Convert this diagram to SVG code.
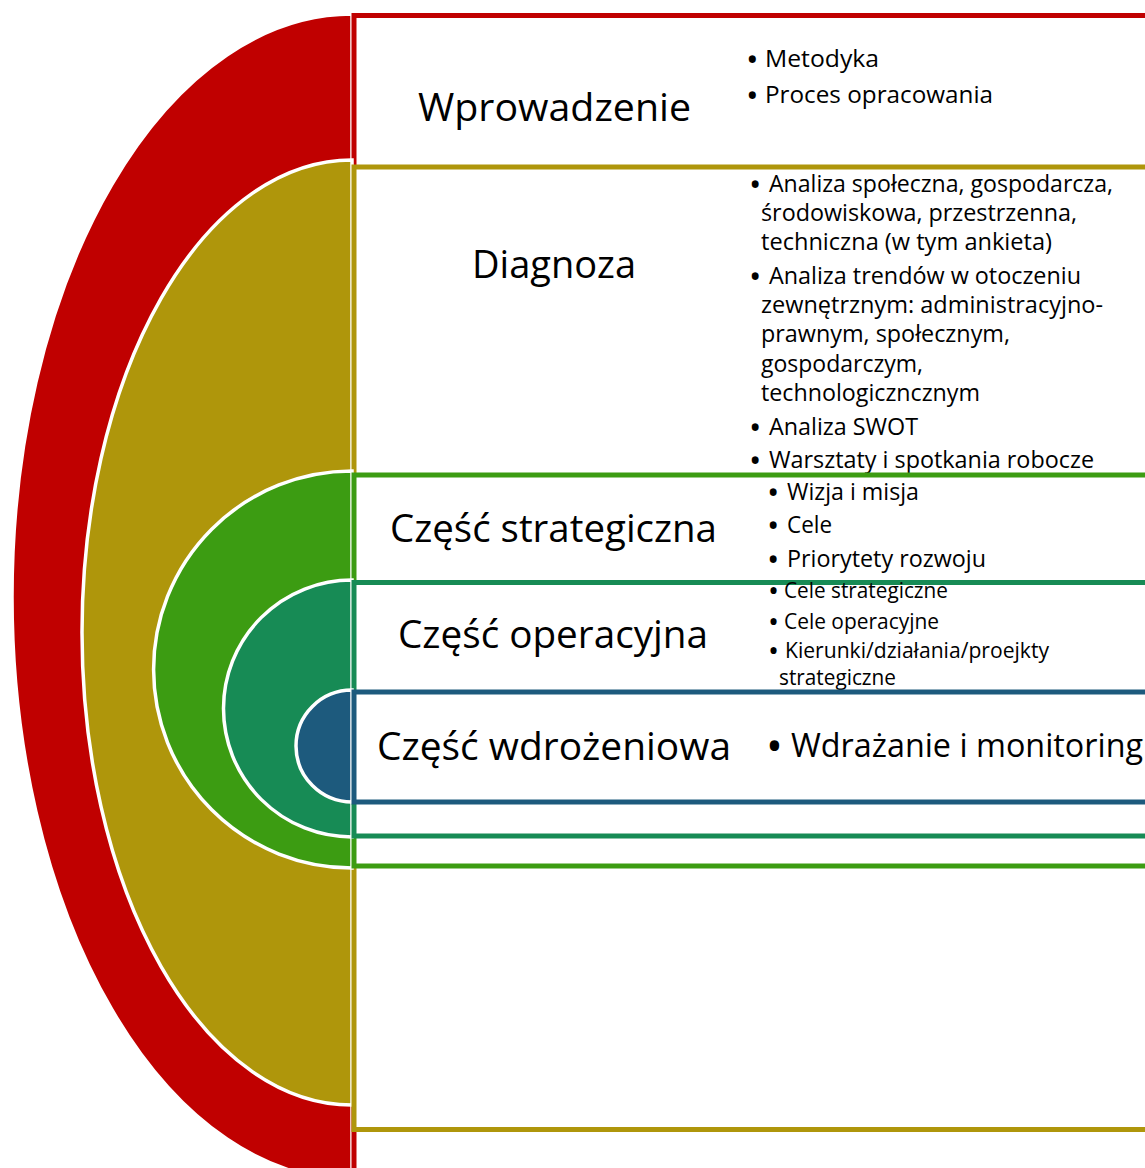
<svg xmlns="http://www.w3.org/2000/svg" width="1145" height="1168" viewBox="0 0 1145 1168">
<style>
.arc{stroke:#FFFFFF;stroke-width:3.5}
.box{fill:#FFFFFF;stroke-width:5}
text{font-family:"Open Sans","Noto Sans","Liberation Sans",sans-serif;fill:#000000}
.title{font-size:38px}
.b24{font-size:24px}
.b235{font-size:23.5px}
.b21{font-size:21px}
.b32{font-size:32px}
.bul{font-size:1.4em}
</style>
<rect x="0" y="0" width="1145" height="1168" fill="#FFFFFF"/>
<g id="connectors"/>
<g id="node-wprowadzenie">
<path class="arc" fill="#C00000" d="M352,14 A340,583 0 0 0 352,1180 Z"/>
<rect class="box" stroke="#C00000" x="354" y="15.5" width="820" height="1180"/>
<text class="title" x="418" y="121" textLength="273" lengthAdjust="spacingAndGlyphs">Wprowadzenie</text>
<text class="b24"><tspan class="bul" x="746" y="70.5">•</tspan><tspan x="765" y="67" textLength="114" lengthAdjust="spacingAndGlyphs">Metodyka</tspan></text>
<text class="b24"><tspan class="bul" x="746" y="106.5">•</tspan><tspan x="765" y="103" textLength="228" lengthAdjust="spacingAndGlyphs">Proces opracowania</tspan></text>
</g>
<g id="node-diagnoza">
<path class="arc" fill="#AF960B" d="M352,160 A270,472.5 0 0 0 352,1105 Z"/>
<rect class="box" stroke="#AF960B" x="354" y="167" width="820" height="962.5"/>
<text class="title" x="472" y="278" textLength="164" lengthAdjust="spacingAndGlyphs">Diagnoza</text>
<text class="b235"><tspan class="bul" x="749" y="195.5">•</tspan><tspan x="769" y="192" textLength="344" lengthAdjust="spacingAndGlyphs">Analiza społeczna, gospodarcza,</tspan></text>
<text class="b235" x="761" y="221" textLength="316" lengthAdjust="spacingAndGlyphs">środowiskowa, przestrzenna,</text>
<text class="b235" x="761" y="250" textLength="291" lengthAdjust="spacingAndGlyphs">techniczna (w tym ankieta)</text>
<text class="b235"><tspan class="bul" x="749" y="287.5">•</tspan><tspan x="769" y="284" textLength="312" lengthAdjust="spacingAndGlyphs">Analiza trendów w otoczeniu</tspan></text>
<text class="b235" x="761" y="313" textLength="342" lengthAdjust="spacingAndGlyphs">zewnętrznym: administracyjno-</text>
<text class="b235" x="761" y="342" textLength="249" lengthAdjust="spacingAndGlyphs">prawnym, społecznym,</text>
<text class="b235" x="761" y="372" textLength="162" lengthAdjust="spacingAndGlyphs">gospodarczym,</text>
<text class="b235" x="761" y="401" textLength="219" lengthAdjust="spacingAndGlyphs">technologiczncznym</text>
<text class="b235"><tspan class="bul" x="749" y="438.5">•</tspan><tspan x="769" y="435" textLength="149" lengthAdjust="spacingAndGlyphs">Analiza SWOT</tspan></text>
<text class="b235"><tspan class="bul" x="749" y="471.5">•</tspan><tspan x="769" y="468" textLength="325" lengthAdjust="spacingAndGlyphs">Warsztaty i spotkania robocze</tspan></text>
</g>
<g id="node-strategiczna">
<path class="arc" fill="#3C9C12" d="M352,471 A198.5,198.5 0 0 0 352,868 Z"/>
<rect class="box" stroke="#3C9C12" x="354" y="475" width="820" height="391"/>
<text class="title" x="390" y="542" textLength="327" lengthAdjust="spacingAndGlyphs">Część strategiczna</text>
<text class="b235"><tspan class="bul" x="767" y="503.5">•</tspan><tspan x="787" y="500" textLength="132" lengthAdjust="spacingAndGlyphs">Wizja i misja</tspan></text>
<text class="b235"><tspan class="bul" x="767" y="536.5">•</tspan><tspan x="787" y="533" textLength="45" lengthAdjust="spacingAndGlyphs">Cele</tspan></text>
<text class="b235"><tspan class="bul" x="767" y="570.5">•</tspan><tspan x="787" y="567" textLength="199" lengthAdjust="spacingAndGlyphs">Priorytety rozwoju</tspan></text>
</g>
<g id="node-operacyjna">
<path class="arc" fill="#178B55" d="M352,580 A128.5,128.5 0 0 0 352,837 Z"/>
<rect class="box" stroke="#178B55" x="354" y="582.5" width="820" height="253.5"/>
<text class="title" x="398" y="648" textLength="310" lengthAdjust="spacingAndGlyphs">Część operacyjna</text>
<text class="b21"><tspan class="bul" x="768" y="601">•</tspan><tspan x="784" y="598" textLength="164" lengthAdjust="spacingAndGlyphs">Cele strategiczne</tspan></text>
<text class="b21"><tspan class="bul" x="768" y="632">•</tspan><tspan x="784" y="629" textLength="155" lengthAdjust="spacingAndGlyphs">Cele operacyjne</tspan></text>
<text class="b21"><tspan class="bul" x="768" y="661">•</tspan><tspan x="785" y="658" textLength="264" lengthAdjust="spacingAndGlyphs">Kierunki/działania/proejkty</tspan></text>
<text class="b21" x="779" y="685" textLength="117" lengthAdjust="spacingAndGlyphs">strategiczne</text>
</g>
<g id="node-wdrozeniowa">
<path class="arc" fill="#1D5A7D" d="M352,690 A56,56 0 0 0 352,802 Z"/>
<rect class="box" stroke="#1D5A7D" x="354" y="692" width="820" height="110"/>
<text class="title" x="377" y="760" textLength="354" lengthAdjust="spacingAndGlyphs">Część wdrożeniowa</text>
<text class="b32"><tspan class="bul" x="766" y="761.5">•</tspan><tspan x="791" y="757" textLength="352" lengthAdjust="spacingAndGlyphs">Wdrażanie i monitoring</tspan></text>
</g>
</svg>
